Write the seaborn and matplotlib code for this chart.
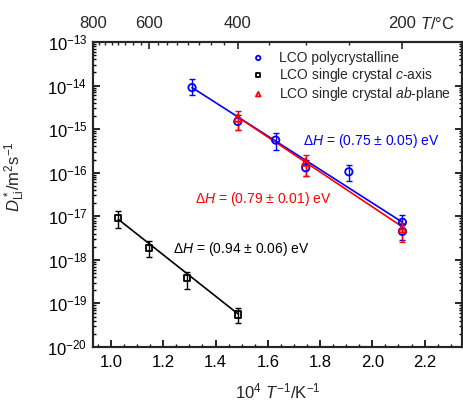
import numpy as np
import pandas as pd
import matplotlib
matplotlib.use("Agg")
import matplotlib.pyplot as plt
import seaborn as sns
from matplotlib.ticker import LogLocator, LogFormatterSciNotation, MultipleLocator, NullFormatter, FixedLocator

# ---------------- data ----------------
poly_x = [1.31, 1.485, 1.63, 1.745, 1.91, 2.115, 2.115]
poly_y = [9.0e-15, 1.5e-15, 5.6e-16, 1.3e-16, 1.05e-16, 7.3e-18, 4.5e-18]
poly_hi = [1.45e-14, 2.1e-15, 8.0e-16, 2.0e-16, 1.5e-16, 1.07e-17, 6.5e-18]
poly_lo = [6.0e-15, 9.5e-16, 3.3e-16, 8.2e-17, 6.3e-17, 5.0e-18, 2.9e-18]

ab_x = [1.485, 1.745, 2.115]
ab_y = [1.8e-15, 1.75e-16, 5.2e-18]
ab_hi = [2.6e-15, 2.6e-16, 7.2e-18]
ab_lo = [9.6e-16, 8.2e-17, 2.6e-18]

c_x = [1.028, 1.145, 1.29, 1.485]
c_y = [9.0e-18, 1.9e-18, 3.9e-19, 5.6e-20]
c_hi = [1.3e-17, 2.75e-18, 5.4e-19, 7.8e-20]
c_lo = [5.4e-18, 1.15e-18, 2.2e-19, 3.6e-20]

# fit lines (end points)
poly_fit_x = [1.31, 2.115]
poly_fit_y = [9.0e-15, 7.3e-18]
ab_fit_x = [1.485, 2.115]
ab_fit_y = [1.9e-15, 5.7e-18]
c_fit_x = [1.028, 1.485]
c_fit_y = [8.5e-18, 5.8e-20]

labels = ["LCO polycrystalline", "LCO single crystal $c$-axis", "LCO single crystal $ab$-plane"]
anno = ["Δ$H$ = (0.75 ± 0.05) eV", "Δ$H$ = (0.79 ± 0.01) eV", "Δ$H$ = (0.94 ± 0.06) eV"]
top_T = [800, 600, 400, 200]
top_T_minor = [775, 750, 725, 700, 675, 650, 625, 575, 550, 525, 500, 475, 450, 425, 350, 300, 250, 150]
x_ticks = [1.0, 1.2, 1.4, 1.6, 1.8, 2.0, 2.2]

# ---------------- style ----------------
sns.set_theme(style="ticks")
plt.rcParams["font.family"] = ["Liberation Sans", "DejaVu Sans"]
plt.rcParams["mathtext.fontset"] = "custom"
plt.rcParams["mathtext.rm"] = "Liberation Sans"
plt.rcParams["mathtext.it"] = "Liberation Sans:italic"
plt.rcParams["mathtext.bf"] = "Liberation Sans:bold"

fig = plt.figure(figsize=(4.63, 4.03), dpi=100)
ax = fig.add_axes([93/463, 1-347/403, (462-93)/463, (347-42)/403])
ax.set_yscale("log")

blue, red, black = "#0000ff", "#ff0000", "#000000"

# fit lines
for fx, fy, col in [(poly_fit_x, poly_fit_y, blue), (ab_fit_x, ab_fit_y, red), (c_fit_x, c_fit_y, black)]:
    sns.lineplot(x=fx, y=fy, color=col, lw=1.2, ax=ax, legend=False)

def series(x, y, hi, lo, col, marker, ms, lab):
    y = np.array(y); hi = np.array(hi); lo = np.array(lo)
    err = [y - lo, hi - y]
    ax.errorbar(x, y, yerr=err, fmt="none", ecolor=col, elinewidth=1.0, capsize=2.5, capthick=1.0)
    sns.scatterplot(x=x, y=y, marker=marker, s=ms, facecolor="none", edgecolor=col,
                    linewidth=1.3, ax=ax, label=lab, zorder=5)

series(poly_x, poly_y, poly_hi, poly_lo, blue, "o", 28, labels[0])
series(c_x, c_y, c_hi, c_lo, black, "s", 20, labels[1])
series(ab_x, ab_y, ab_hi, ab_lo, red, "^", 30, labels[2])

ax.set_xlim(0.931, 2.343)
ax.set_ylim(1e-20, 1e-13)

ax.xaxis.set_major_locator(FixedLocator(x_ticks))
ax.xaxis.set_minor_locator(MultipleLocator(0.05))
ax.set_xticklabels([f"{v:.1f}" for v in x_ticks])
ax.yaxis.set_major_locator(LogLocator(base=10, numticks=20))
ax.yaxis.set_minor_locator(LogLocator(base=10, subs=np.arange(2, 10), numticks=40))
ax.yaxis.set_minor_formatter(NullFormatter())
ax.yaxis.set_major_formatter(LogFormatterSciNotation())

ax.tick_params(axis="both", which="both", direction="in", top=False, right=True,
               labelsize=12, colors="black")
ax.tick_params(which="major", length=5, width=1.2)
ax.tick_params(which="minor", length=2.5, width=1.0)
ax.tick_params(axis="x", pad=6)
ax.tick_params(axis="y", pad=4)
for s in ax.spines.values():
    s.set_linewidth(1.5)
    s.set_color("black")

ax.set_xlabel(r"10$^4$ $T^{-1}$/K$^{-1}$", fontsize=12, labelpad=8)
ax.set_ylabel(r"$D^*_{\mathrm{Li}}$/m$^2$s$^{-1}$", fontsize=12)
ax.yaxis.set_label_coords(-0.178, 0.56)

# top axis in degrees Celsius
ax2 = ax.twiny()
ax2.set_xlim(ax.get_xlim())
tpos = [1000.0 / (t + 273.15) for t in top_T]
tmin = [1000.0 / (t + 273.15) for t in top_T_minor]
ax2.xaxis.set_major_locator(FixedLocator(tpos))
ax2.xaxis.set_minor_locator(FixedLocator(tmin))
ax2.set_xticklabels([str(t) for t in top_T])
ax2.tick_params(axis="x", which="both", direction="in", labelsize=12, pad=8)
ax2.tick_params(which="major", length=5, width=1.2)
ax2.tick_params(which="minor", length=2.5, width=1.0)
ax2.tick_params(axis="y", which="both", left=False, right=False, labelleft=False, labelright=False)
for s in ax2.spines.values():
    s.set_linewidth(1.5)
ax2.text(0.885, 1.058, "$T$/°C", transform=ax.transAxes, fontsize=12, va="center", ha="left")

# annotations
ax.text(1.734, 5.4e-16, anno[0], color=blue, fontsize=10, ha="left", va="center")
ax.text(1.321, 2.5e-17, anno[1], color=red, fontsize=10, ha="left", va="center")
ax.text(1.237, 1.8e-18, anno[2], color=black, fontsize=10, ha="left", va="center")

leg = ax.legend(loc="upper right", bbox_to_anchor=(0.985, 0.99), frameon=False, fontsize=10,
                handletextpad=0.9, borderaxespad=0.2, labelspacing=0.08, handlelength=1.2,
                borderpad=0.2, markerscale=0.6)

fig.savefig("out.png", dpi=100)
